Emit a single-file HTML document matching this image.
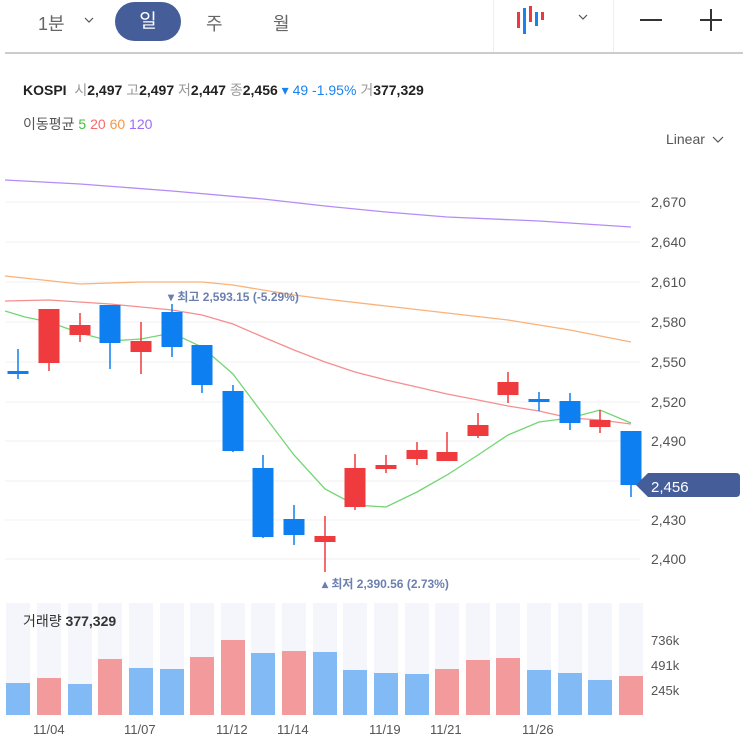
<!DOCTYPE html><html><head><meta charset="utf-8"><style>
body{margin:0;width:743px;height:740px;background:#fff;font-family:"Liberation Sans","Noto Sans CJK KR",sans-serif;overflow:hidden;position:relative}
.a{position:absolute;white-space:nowrap}
</style></head><body>
<div class="a" style="left:38px;top:10px;font-size:18px;color:#666">1분</div>
<div class="a" style="left:115px;top:2px;width:66px;height:39px;border-radius:20px;background:#455d99;color:#fff;font-size:19px;text-align:center;line-height:39px">일</div>
<div class="a" style="left:206px;top:10px;font-size:18px;color:#666">주</div>
<div class="a" style="left:273px;top:10px;font-size:18px;color:#666">월</div>
<div class="a" style="left:493px;top:0;width:1px;height:53px;background:#eee"></div>
<div class="a" style="left:613px;top:0;width:1px;height:53px;background:#eee"></div>
<svg class="a" style="left:0;top:0" width="743" height="740">
<g stroke="#333" stroke-width="2"><line x1="640" y1="20" x2="662" y2="20"/><line x1="700" y1="20" x2="722" y2="20"/><line x1="711" y1="9" x2="711" y2="31"/></g>
<line x1="5" y1="53" x2="743" y2="53" stroke="#ccc" stroke-width="2"/>
<g><rect x="517" y="12" width="3" height="16" fill="#e93a3f"/><rect x="523" y="8" width="3" height="26" fill="#1a82ee"/><rect x="529" y="6" width="3" height="16" fill="#e93a3f"/><rect x="535" y="12" width="3" height="14" fill="#1a82ee"/><rect x="541" y="12" width="3" height="8" fill="#e93a3f"/></g>
<path d="M85 18l4 4 4-4" fill="none" stroke="#555" stroke-width="1.2"/>
<path d="M579 15l4 4 4-4" fill="none" stroke="#555" stroke-width="1.2"/>
<path d="M713 137l5 5 5-5" fill="none" stroke="#555" stroke-width="1.2"/>
<g stroke="#f0f0f0" stroke-width="1">
<line x1="5" y1="202" x2="640" y2="202"/><line x1="5" y1="242" x2="640" y2="242"/><line x1="5" y1="282" x2="640" y2="282"/><line x1="5" y1="322" x2="640" y2="322"/><line x1="5" y1="362" x2="640" y2="362"/><line x1="5" y1="402" x2="640" y2="402"/><line x1="5" y1="441" x2="640" y2="441"/><line x1="5" y1="481" x2="640" y2="481"/><line x1="5" y1="520" x2="640" y2="520"/><line x1="5" y1="559" x2="640" y2="559"/></g>
<g font-size="14" fill="#555"><text x="651" y="207">2,670</text><text x="651" y="247">2,640</text><text x="651" y="287">2,610</text><text x="651" y="327">2,580</text><text x="651" y="367">2,550</text><text x="651" y="407">2,520</text><text x="651" y="446">2,490</text><text x="651" y="525">2,430</text><text x="651" y="564">2,400</text></g>
<polyline fill="none" stroke="#b58cf5" stroke-width="1.3" points="5,180 80,184 172,191 263,199 325,206 386,212 447,217 539,221 631,227"/>
<polyline fill="none" stroke="#f9b27a" stroke-width="1.3" points="5,276 80,284 110,283 141,282 202,282 233,285 263,290 294,295 325,299 386,306 447,313 508,320 570,330 631,342"/>
<polyline fill="none" stroke="#f58f8f" stroke-width="1.3" points="5,301 49,300 110,304 172,310 202,315 233,324 263,337 294,350 325,362 355,372 386,380 417,387 447,394 478,400 508,406 539,411 570,418 600,420 631,424"/>
<polyline fill="none" stroke="#72d672" stroke-width="1.3" points="5,311 25,317 49,322 80,333 110,341 141,339 172,333 202,347 233,374 263,414 294,455 325,489 355,505 386,507 417,492 447,475 478,455 508,435 539,422 570,418 600,410 631,423"/>
<g id="c"></g>
<path d="M648 473 L636 485 L648 497 L736 497 Q740 497 740 493 L740 477 Q740 473 736 473Z" fill="#455d99"/>
<text x="651" y="492" font-size="15" fill="#fff">2,456</text>
<text x="168" y="301" font-size="12" fill="#6b7fb0" font-weight="bold">▾ 최고 2,593.15 (-5.29%)</text>
<text x="322" y="588" font-size="12" fill="#6b7fb0" font-weight="bold">▴ 최저 2,390.56 (2.73%)</text>
<g font-size="13" fill="#555"><text x="651" y="645">736k</text><text x="651" y="670">491k</text><text x="651" y="695">245k</text>
<text x="33" y="734">11/04</text><text x="124" y="734">11/07</text><text x="216" y="734">11/12</text><text x="277" y="734">11/14</text><text x="369" y="734">11/19</text><text x="430" y="734">11/21</text><text x="522" y="734">11/26</text></g>
</svg>
<div class="a" style="left:23px;top:80px;font-size:14px;color:#222"><b>KOSPI</b> <span style="color:#999">&nbsp;시</span><b>2,497</b> <span style="color:#999">고</span><b>2,497</b> <span style="color:#999">저</span><b>2,447</b> <span style="color:#999">종</span><b>2,456</b><span style="color:#1a82ee"> ▾ 49 -1.95%</span> <span style="color:#999">거</span><b>377,329</b></div>
<div class="a" style="left:23px;top:114px;font-size:14px;color:#555">이동평균 <span style="color:#3cc43c">5</span> <span style="color:#f56b6b">20</span> <span style="color:#f7964a">60</span> <span style="color:#a06af5">120</span></div>
<div class="a" style="left:666px;top:131px;font-size:14px;color:#555">Linear</div>
<div class="a" style="left:23px;top:611px;font-size:14px;color:#333">거래량 <b>377,329</b></div>
<script>
var R="#ef3a3e",B="#0e7ff0";
var d=[[18,371,374,349,379,B],[49,309,363,309,371,R],[80,325,335,313,342,R],[110,305,343,305,369,B],[141,341,352,322,374,R],[172,312,347,304,357,B],[202,345,385,345,393,B],[233,391,451,385,452,B],[263,468,537,455,538,B],[294,519,535,505,545,B],[325,536,542,516,572,R],[355,468,507,454,510,R],[386,465,469,455,473,R],[417,450,459,442,465,R],[447,452,461,432,461,R],[478,425,436,413,438,R],[508,382,395,372,403,R],[539,399,402,392,411,B],[570,401,423,393,430,B],[600,420,427,410,433,R],[631,431,485,431,497,B]];
var v=[683,678,684,659,668,669,657,640,653,651,652,670,673,674,669,660,658,670,673,680,676];
var vc="BRBRBBRRBRBBBBRRRBBBR";
var s="";
d.forEach(function(c,i){
s+='<rect x="'+(c[0]-12)+'" y="603" width="24" height="112" fill="#f5f6fb"/>';
s+='<rect x="'+(c[0]-12)+'" y="'+v[i]+'" width="24" height="'+(715-v[i])+'" fill="'+(vc[i]=="R"?"#f29a9c":"#82baf6")+'"/>';
s+='<line x1="'+c[0]+'" y1="'+c[3]+'" x2="'+c[0]+'" y2="'+c[4]+'" stroke="'+c[5]+'" stroke-width="1.5"/>';
s+='<rect x="'+(c[0]-10.5)+'" y="'+c[1]+'" width="21" height="'+Math.max(3,c[2]-c[1])+'" fill="'+c[5]+'"/>';
});
document.getElementById("c").innerHTML=s;
</script>
</body></html>
